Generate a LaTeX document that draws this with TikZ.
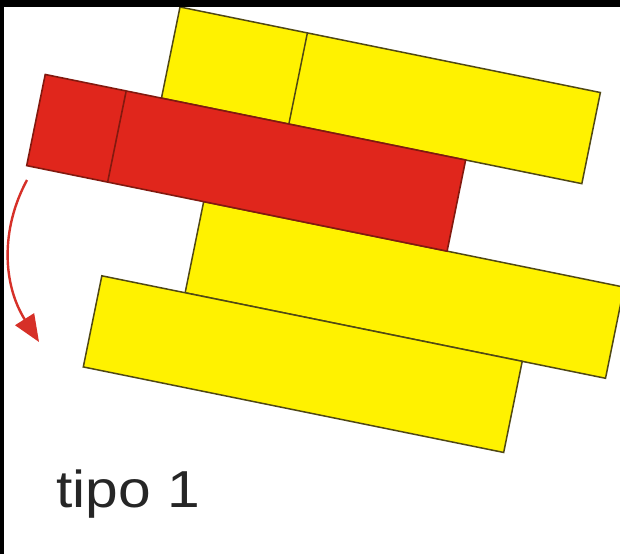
\documentclass[tikz,border=0pt]{standalone}
\usepackage{fontspec}
\setmainfont{Liberation Sans}
\usetikzlibrary{arrows.meta}
\definecolor{gelbfill}{RGB}{255,242,0}
\definecolor{gelbrand}{RGB}{80,72,20}
\definecolor{rotfill}{RGB}{224,38,28}
\definecolor{rotrand}{RGB}{130,25,15}
\definecolor{pfeilrot}{RGB}{214,48,40}
\tikzset{
    gelb/.style={fill=gelbfill, draw=gelbrand, line width=1.5pt},
    rot/.style={fill=rotfill, draw=rotrand, line width=1.6pt},
    pfeil/.style={draw=pfeilrot, line width=2.4pt, -{Triangle[length=27pt,width=22pt]}}
}

\begin{document}
\begin{tikzpicture}[x=1pt, y=-1pt]

% Rahmen
\fill[black] (0,0) rectangle (620,554);
\fill[white] (4,7) rectangle (620,554);
\useasboundingbox (0,0) rectangle (620,554);
\clip (4,7) rectangle (620,554);

% Steine (gedreht)
\begin{scope}[shift={(180,7)}, rotate=-11.5]
% oberer Stein
\draw[gelb] (0,0) rectangle (429,93);
\draw[gelbrand, line width=1.5pt] (130,0) -- (130,93);
% mittlerer Stein
\draw[gelb] (62,186) rectangle (491,279);
% unterer Stein
\draw[gelb] (-23,279) rectangle (406,372);
% roter Stein
\draw[rot] (-118.6,93) rectangle (310.4,186);
\draw[rotrand, line width=1.6pt] (-36,93) -- (-36,186);
\end{scope}

% Pfeil
\coordinate (P0) at (27,180);
\coordinate (P1) at (39,342);
\draw[pfeil] (P0) .. controls (0,230) and (3,285) .. (P1);

% Beschriftung
\node[anchor=base west, inner sep=0pt, font=\fontsize{52}{60}\selectfont,
      xscale=1.13, text=black!85] (tipo) at (56,507) {tipo 1};

\end{tikzpicture}
\end{document}
